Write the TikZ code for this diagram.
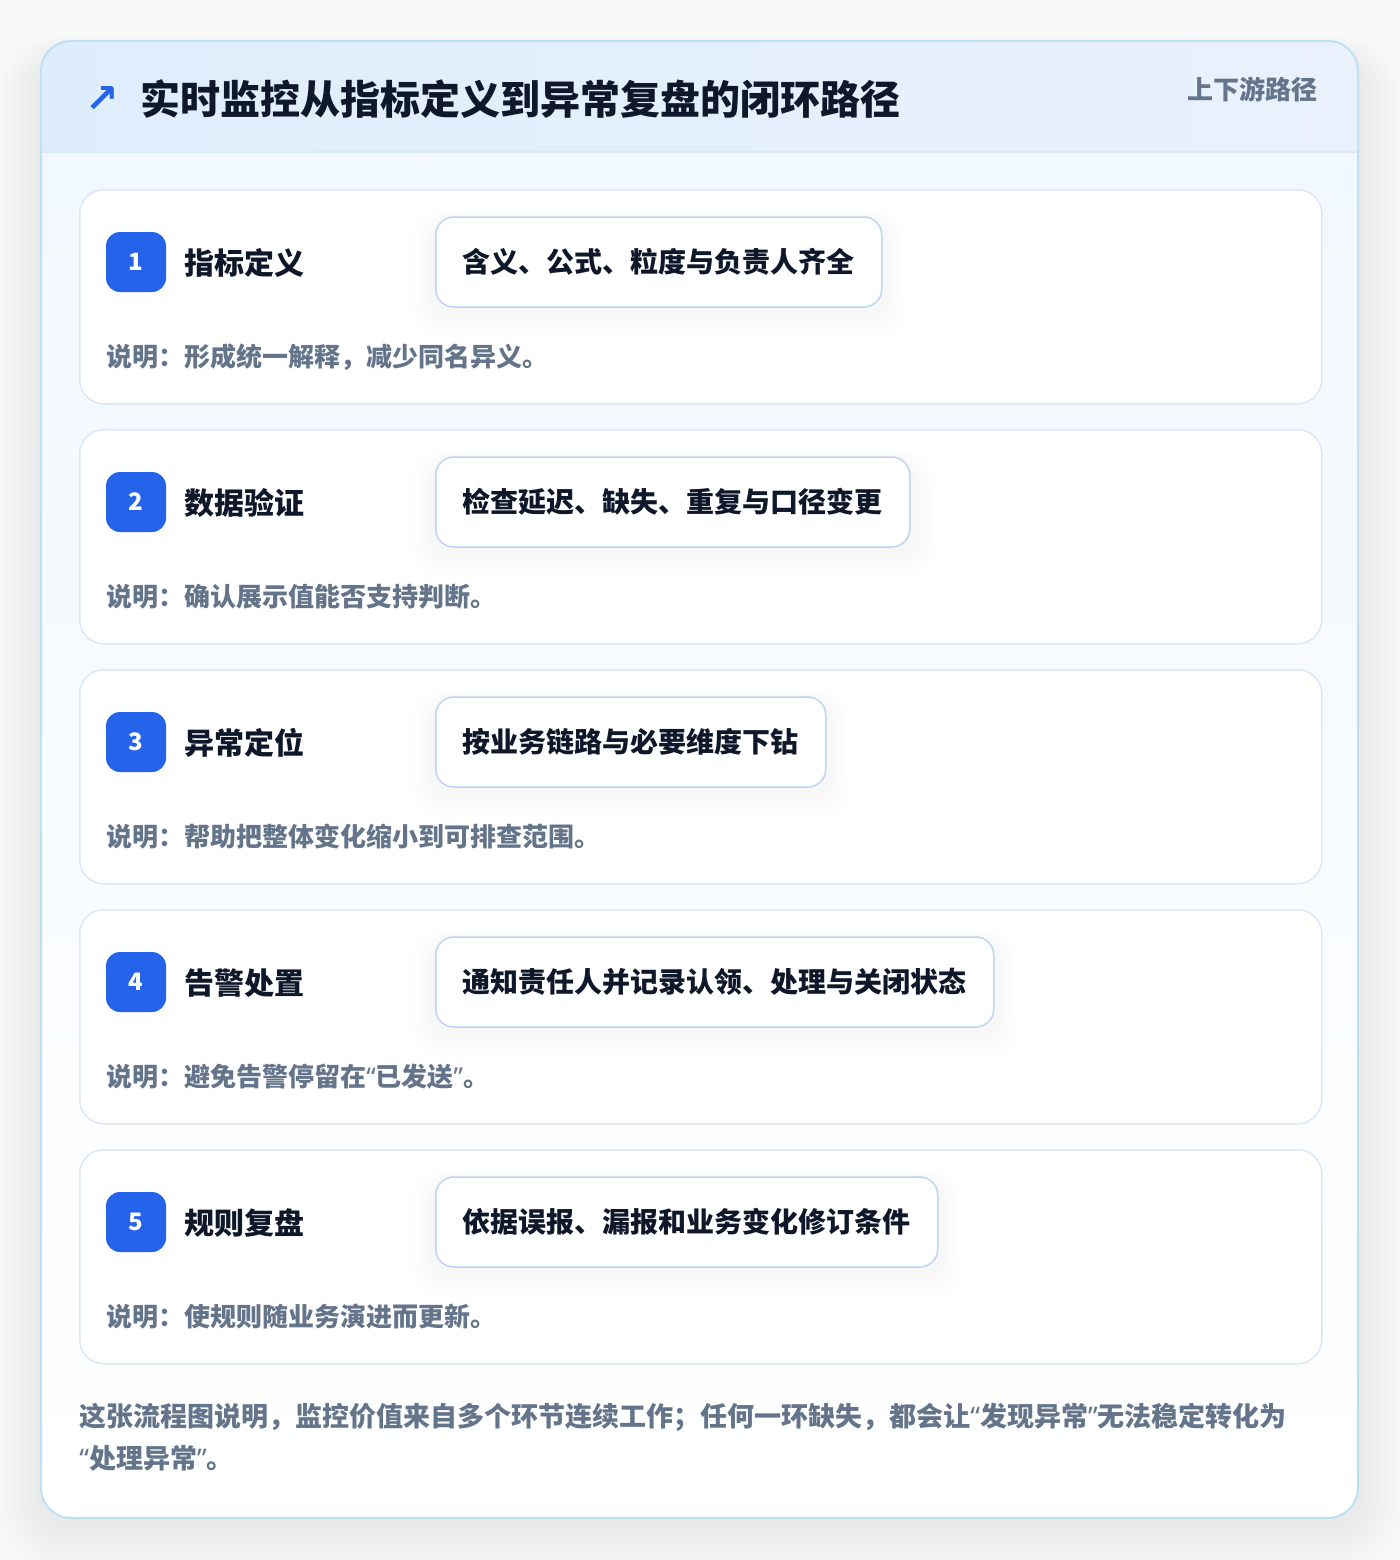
\documentclass[tikz,border=0pt]{standalone}
\usepackage{fontspec}
\setmainfont{Noto Sans CJK SC}
\newfontfamily\symfont{DejaVu Sans}
\newfontfamily\latinfont{Noto Sans}
\newcommand{\myoq}{{\latinfont\bfseries “}}
\newcommand{\mycq}{{\latinfont\bfseries ”}}
\definecolor{ink}{HTML}{0F172A}
\definecolor{muted}{HTML}{64748B}
\definecolor{accent}{HTML}{2563EB}
\definecolor{cardline}{HTML}{DBE8F7}
\definecolor{pillline}{HTML}{BCD4F2}
\definecolor{outerline}{HTML}{BDE0F5}
\definecolor{hdrL}{HTML}{DEEDFC}
\definecolor{hdrR}{HTML}{EAF1FD}
\definecolor{bodyT}{HTML}{F2F8FF}
\definecolor{pagebg}{HTML}{F8F8F9}
\pgfdeclarelayer{bg}
\pgfdeclarelayer{shadow}
\pgfsetlayers{bg,shadow,main}
\begin{document}
\begin{tikzpicture}[x=0.5pt,y=-0.5pt,
  every node/.style={inner sep=0pt, font=\bfseries},
  stepcard/.style={draw=cardline, line width=0.75pt, fill=white, rounded corners=12pt,
    minimum width=621pt, minimum height=107pt, anchor=north west},
  badge/.style={fill=accent, rounded corners=7pt, minimum width=30pt, minimum height=30pt,
    text=white, font=\bfseries\fontsize{12}{12}\selectfont},
  steptitle/.style={anchor=west, text=ink, font=\bfseries\fontsize{15}{18}\selectfont},
  pill/.style={anchor=west, draw=pillline, line width=0.75pt, fill=white, rounded corners=9pt,
    inner xsep=13.5pt, minimum height=45pt, text=ink, font=\bfseries\fontsize{14}{16}\selectfont},
  desc/.style={anchor=west, text=muted, font=\bfseries\fontsize{13}{16}\selectfont}]
\useasboundingbox (0,0) rectangle (1400,1560);
\begin{pgfonlayer}{bg}
\fill[pagebg] (0,0) rectangle (1400,1560);
\foreach \k in {1,...,14}{
  \fill[black, opacity=0.0045, rounded corners=15pt+\k*1pt]
    (41-\k*3, 41-\k*1.5+16) rectangle (1358+\k*3, 1518+\k*3+10);
}
\begin{scope}
\clip[rounded corners=15pt] (41,41) rectangle (1358,1518);
\fill[left color=hdrL, right color=hdrR] (41,41) rectangle (1358,152);
\fill[top color=bodyT, bottom color=white] (41,152) rectangle (1358,1518);
\end{scope}
\draw[cardline, line width=0.75pt] (41,152) -- (1358,152);
\draw[outerline, line width=1pt, rounded corners=15pt] (41,41) rectangle (1358,1518);
\end{pgfonlayer}

\node[anchor=center, text=accent, font=\symfont\bfseries\fontsize{20}{20}\selectfont] (icon) at (102,99) {↗};
\node[anchor=west, text=ink, font=\bfseries\fontsize{20}{24}\selectfont] (title) at (140,99) {实时监控从指标定义到异常复盘的闭环路径};
\node[anchor=east, text=muted, font=\bfseries\fontsize{13}{16}\selectfont] (tag) at (1318,89) {上下游路径};

\foreach \i/\t/\p/\d in {
  1/指标定义/含义、公式、粒度与负责人齐全/说明：形成统一解释，减少同名异义。,
  2/数据验证/检查延迟、缺失、重复与口径变更/说明：确认展示值能否支持判断。,
  3/异常定位/按业务链路与必要维度下钻/说明：帮助把整体变化缩小到可排查范围。,
  4/告警处置/通知责任人并记录认领、处理与关闭状态/说明：避免告警停留在\myoq 已发送\mycq 。,
  5/规则复盘/依据误报、漏报和业务变化修订条件/说明：使规则随业务演进而更新。}{
  \pgfmathsetmacro{\yo}{189+240*(\i-1)}
  \begin{pgfonlayer}{bg}
  \node[stepcard] (card\i) at (79,\yo) {};
  \end{pgfonlayer}
  \node[badge] (badge\i) at (136,\yo+73) {\i};
  \node[steptitle] (title\i) at (184,\yo+74) {\t};
  \node[pill] (pill\i) at (435,\yo+73) {\p};
  \begin{pgfonlayer}{shadow}
  \foreach \k in {1,...,8}{
    \fill[black, opacity=0.004, rounded corners=9pt+\k*1pt]
      ([xshift=-\k*1.5pt, yshift=\k*1pt-4pt]pill\i.north west) rectangle ([xshift=\k*1.5pt, yshift=-\k*1.5pt-4pt]pill\i.south east);
  }
  \end{pgfonlayer}
  \node[desc] (desc\i) at (106,\yo+168) {\d};
}

\node[anchor=base west, align=left, text=muted, font=\bfseries\fontsize{13.5}{21}\selectfont] (footer) at (79,1468)
  {这张流程图说明，监控价值来自多个环节连续工作；任何一环缺失，都会让\myoq 发现异常\mycq 无法稳定转化为\\\myoq 处理异常\mycq 。};
\end{tikzpicture}
\end{document}
